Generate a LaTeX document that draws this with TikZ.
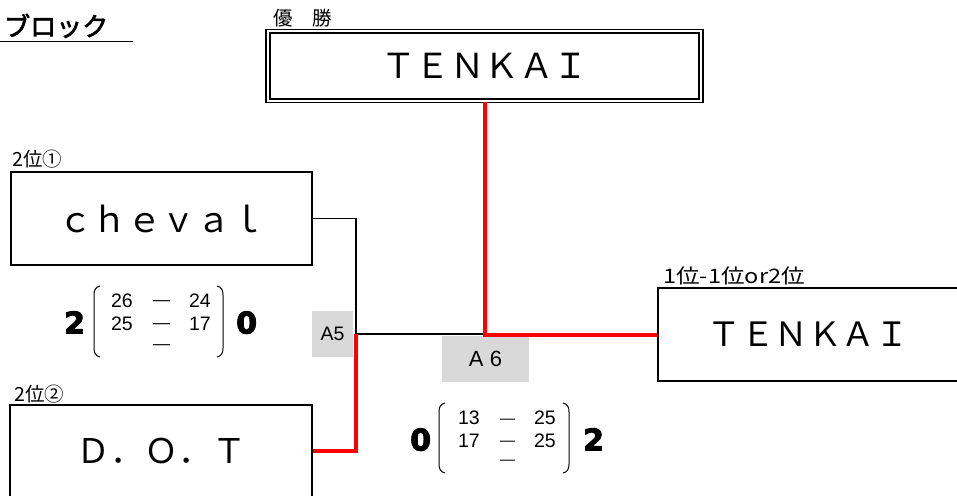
\documentclass[tikz,border=0pt]{standalone}
\usepackage{fontspec}
\newfontfamily\jp{Noto Sans CJK JP}
\newfontfamily\jpb{Noto Sans CJK JP}[FakeBold=2.5]
\newfontfamily\arial{Liberation Sans}
\newfontfamily\heavy{DejaVu Sans}[FakeBold=3]
\begin{document}
\begin{tikzpicture}[x=1pt,y=-1pt,
  box/.style={draw, line width=1.6pt, inner sep=0pt},
  lbl/.style={inner sep=0pt, font=\jp\fontsize{19.5}{20}\selectfont},
  teamtxt/.style={font=\jp\fontsize{34.5}{40}\selectfont},
  num/.style={inner sep=0pt, font=\arial\fontsize{19.5}{20}\selectfont},
  dsh/.style={inner sep=0pt, font=\arial\fontsize{17}{18}\selectfont},
  big/.style={inner sep=0pt, font=\heavy\bfseries\fontsize{30}{30}\selectfont},
  paren/.style={line width=1pt},
  gbox/.style={fill=black!15, inner sep=0pt, font=\arial\fontsize{19.5}{20}\selectfont},
  conn/.style={line width=1.6pt, black},
  win/.style={line width=4pt, red}]
\useasboundingbox (0,0) rectangle (957,495);

% title
\node[inner sep=0pt, anchor=base west, font=\jpb\fontsize{26}{26}\selectfont] (title) at (4,36) {ブロック};
\draw[line width=1.3pt] (0,41.5) -- (133,41.5);

% gray match labels
\node[gbox, minimum width=41pt, minimum height=46pt] (a5) at (332.5,334) {A5};
\node[gbox, minimum width=87pt, minimum height=46pt, font=\arial\fontsize{22}{22}\selectfont] (a6) at (485.5,359) {A 6};

% boxes
\node[draw, double, double distance=2pt, line width=1.6pt, inner sep=0pt,
      minimum width=433pt, minimum height=69.5pt, teamtxt] (top) at (484.5,66) {ＴＥＮＫＡＩ};
\node[box, minimum width=301pt, minimum height=93pt, teamtxt] (chev) at (161.5,218.5) {ｃｈｅｖａｌ};
\node[box, minimum width=302pt, minimum height=92pt, font=\jp\fontsize{34}{40}\selectfont] (dot) at (161,451) {Ｄ．Ｏ．Ｔ};
\node[box, minimum width=300pt, minimum height=93pt, font=\jp\fontsize{33.5}{40}\selectfont] (right) at (808,334.5) {ＴＥＮＫＡＩ};

% labels
\node[lbl, anchor=base west] (lwin) at (273,25.5) {優　勝};
\node[lbl, anchor=base west] (l1) at (12,166.5) {2位①};
\node[lbl, anchor=base west] (l2) at (14,401) {2位②};
\node[lbl, anchor=base west, font=\jp\fontsize{20}{20}\selectfont] (l3) at (663,283) {\scalebox{1.18}[1]{1位-1位or2位}};

% connectors
\coordinate (j1) at (356,334);
\coordinate (j2) at (485,334);
\draw[conn] (chev.east) -| (j1) -- (j2);
\draw[win] (dot.east) -| (j1);
\draw[win] (top.south) |- (right.west);

% score 1
\node[big, anchor=base west] (s1a) at (64,333.5) {2};
\node[big, anchor=base west] (s1b) at (236,333.5) {0};
\draw[paren] (100,286) .. controls (95.5,287) and (94,290) .. (94,295) -- (94,348) .. controls (94,353) and (95.5,356) .. (100,357);
\draw[paren] (217,286) .. controls (221.5,287) and (223,290) .. (223,295) -- (223,348) .. controls (223,353) and (221.5,356) .. (217,357);
\node[num, anchor=base east] (s1r1a) at (133,307) {26};
\node[dsh] (s1r1d) at (161.5,303) {—};
\node[num, anchor=base east] (s1r1b) at (211,307) {24};
\node[num, anchor=base east] (s1r2a) at (133,330) {25};
\node[dsh] (s1r2d) at (161.5,326) {—};
\node[num, anchor=base east] (s1r2b) at (211,330) {17};
\node[dsh] (s1r3d) at (161.5,347) {—};

% score 2
\node[big, anchor=base west] (s2a) at (410,450.5) {0};
\node[big, anchor=base west] (s2b) at (583,450.5) {2};
\draw[paren] (445,403) .. controls (440.5,404) and (439,407) .. (439,412) -- (439,464) .. controls (439,469) and (440.5,472) .. (445,473);
\draw[paren] (563,403) .. controls (567.5,404) and (569,407) .. (569,412) -- (569,464) .. controls (569,469) and (567.5,472) .. (563,473);
\node[num, anchor=base east] (s2r1a) at (480,424) {13};
\node[dsh, font=\arial\fontsize{15}{16}\selectfont] (s2r1d) at (507.5,421) {—};
\node[num, anchor=base east] (s2r1b) at (556,424) {25};
\node[num, anchor=base east] (s2r2a) at (480,447) {17};
\node[dsh, font=\arial\fontsize{15}{16}\selectfont] (s2r2d) at (507.5,443) {—};
\node[num, anchor=base east] (s2r2b) at (556,447) {25};
\node[dsh, font=\arial\fontsize{15}{16}\selectfont] (s2r3d) at (507.5,462) {—};
\end{tikzpicture}
\end{document}
